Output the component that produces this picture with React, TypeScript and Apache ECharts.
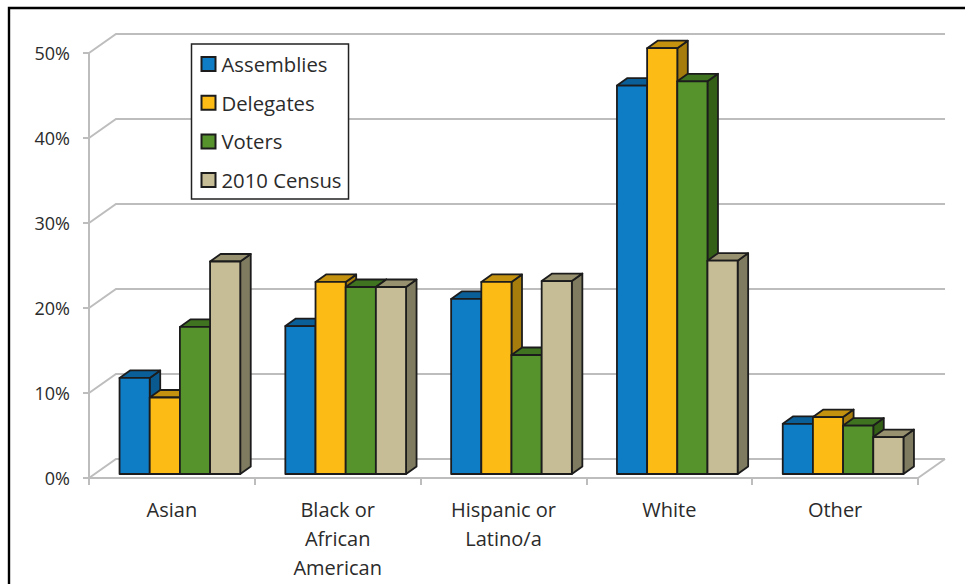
import React, { useEffect, useRef } from "react";
import * as echarts from "echarts";

const categories = ["Asian", "Black or\nAfrican\nAmerican", "Hispanic or\nLatino/a", "White", "Other"];
const seriesNames = ["Assemblies", "Delegates", "Voters", "2010 Census"];
const assemblies = [11.3, 17.4, 20.6, 45.7, 5.9];
const delegates = [9.0, 22.6, 22.6, 50.1, 6.7];
const voters = [17.3, 22.0, 14.0, 46.2, 5.7];
const census = [25.0, 22.0, 22.7, 25.1, 4.35];
const yTicks = [0, 10, 20, 30, 40, 50];

const seriesValues = [assemblies, delegates, voters, census];
const frontColors = ["#0f7cc6", "#fdbb16", "#56932c", "#c6bd97"];
const topColors = ["#0b5f98", "#c5920f", "#3f7320", "#97916f"];
const sideColors = ["#0a5a90", "#a67c0c", "#345f17", "#7f7b60"];

const EDGE = "#1c1c1c";
const GRID_LINE = "#bdbdbd";
const BAR_DEPTH_X = 10.5;
const BAR_DEPTH_Y = 7.5;
const WALL_DEPTH_X = 27;
const WALL_DEPTH_Y = 19;
const FLOOR_SHIFT_X = 8;
const FLOOR_SHIFT_Y = 4;
const GROUP_RATIO = 0.728;

// One extruded column: front face, lid and right side, from the axis scales.
function columnItem(seriesIndex: number) {
  return (_params: any, api: any) => {
    const cat = api.value(0);
    const top = api.coord([cat, api.value(1)]);
    const base = api.coord([cat, 0]);
    const band = api.size([1, 0])[0];
    const w = (band * GROUP_RATIO) / seriesNames.length;
    const x0 = top[0] + FLOOR_SHIFT_X - (w * seriesNames.length) / 2 + seriesIndex * w;
    const x1 = x0 + w;
    const y0 = top[1] - FLOOR_SHIFT_Y;
    const y1 = base[1] - FLOOR_SHIFT_Y;
    const edge = { stroke: EDGE, lineWidth: 1.8, lineJoin: "round" };
    return {
      type: "group",
      children: [
        {
          type: "polygon",
          shape: { points: [[x1, y0], [x1 + BAR_DEPTH_X, y0 - BAR_DEPTH_Y], [x1 + BAR_DEPTH_X, y1 - BAR_DEPTH_Y], [x1, y1]] },
          style: { fill: sideColors[seriesIndex], ...edge },
        },
        {
          type: "polygon",
          shape: { points: [[x0, y0], [x0 + BAR_DEPTH_X, y0 - BAR_DEPTH_Y], [x1 + BAR_DEPTH_X, y0 - BAR_DEPTH_Y], [x1, y0]] },
          style: { fill: topColors[seriesIndex], ...edge },
        },
        {
          type: "rect",
          shape: { x: x0, y: y0, width: w, height: y1 - y0 },
          style: { fill: frontColors[seriesIndex], ...edge },
        },
      ],
    };
  };
}

// Gridlines running along the left wall and back wall, plus the floor's right edge.
function wallItem(params: any, api: any) {
  const value = api.value(0);
  const y = api.coord([0, value])[1];
  const sys = params.coordSys;
  const left = sys.x;
  const right = sys.x + sys.width;
  const children: any[] = [
    {
      type: "polyline",
      shape: {
        points: [
          [left, y],
          [left + WALL_DEPTH_X, y - WALL_DEPTH_Y],
          [right + WALL_DEPTH_X, y - WALL_DEPTH_Y],
        ],
      },
      style: { stroke: GRID_LINE, lineWidth: 2, fill: "none" },
    },
  ];
  if (value === 0) {
    children.push({
      type: "line",
      shape: { x1: right, y1: y, x2: right + WALL_DEPTH_X, y2: y - WALL_DEPTH_Y },
      style: { stroke: GRID_LINE, lineWidth: 2 },
    });
  }
  return { type: "group", children };
}

export default function App() {
  const ref = useRef<HTMLDivElement>(null);
  useEffect(() => {
    document.body.style.margin = "0";
    const chart = echarts.init(ref.current!, null, { renderer: "svg" });
    const font = "Open Sans";
    chart.setOption({
      animation: false,
      backgroundColor: "#ffffff",
      textStyle: { fontFamily: font },
      grid: { left: 89, right: 47, top: 53, bottom: 106 },
      graphic: [
        {
          type: "polyline",
          z: 100,
          shape: { points: [[9, 584], [9, 8], [965, 8]] },
          style: { stroke: "#000", lineWidth: 2.4, fill: "none" },
        },
      ],
      legend: {
        show: true,
        left: 191.5,
        top: 44,
        orient: "vertical",
        data: seriesNames,
        icon: "rect",
        itemWidth: 14,
        itemHeight: 14,
        itemGap: 18.7,
        padding: [10, 7, 9, 9],
        backgroundColor: "#ffffff",
        borderColor: "#222222",
        borderWidth: 1.5,
        selectedMode: false,
        z: 20,
        textStyle: { fontFamily: font, fontSize: 20.3, color: "#2b2b2b", lineHeight: 14, padding: [0, 0, 0, 1] },
      },
      xAxis: {
        type: "category",
        data: categories,
        axisLine: { lineStyle: { color: GRID_LINE, width: 2 } },
        axisTick: { show: true, length: 7, lineStyle: { color: GRID_LINE, width: 2 } },
        axisLabel: { fontFamily: font, fontSize: 20, color: "#2b2b2b", lineHeight: 29, margin: 17, interval: 0 },
        splitLine: { show: false },
      },
      yAxis: {
        type: "value",
        min: 0,
        max: 50,
        interval: 10,
        axisLine: { show: true, lineStyle: { color: GRID_LINE, width: 2 } },
        axisTick: { show: true, length: 6, lineStyle: { color: GRID_LINE, width: 2 } },
        axisLabel: { fontFamily: font, fontSize: 18, color: "#2b2b2b", margin: 19, padding: [3, 0, 0, 0], formatter: "{value}%" },
        splitLine: { show: false },
      },
      series: [
        {
          type: "custom",
          name: "walls",
          silent: true,
          clip: false,
          z: 1,
          encode: { y: 0 },
          data: yTicks.map((t) => [t]),
          renderItem: wallItem,
        },
        ...seriesNames.map((name, i) => ({
          type: "custom",
          name,
          clip: false,
          z: 5 + i,
          itemStyle: { color: frontColors[i], borderColor: EDGE, borderWidth: 1.5 },
          encode: { x: 0, y: 1 },
          data: seriesValues[i].map((v, c) => [c, v]),
          renderItem: columnItem(i),
        })),
      ],
    });
    return () => chart.dispose();
  }, []);
  return <div ref={ref} style={{ width: 965, height: 584 }} />;
}
